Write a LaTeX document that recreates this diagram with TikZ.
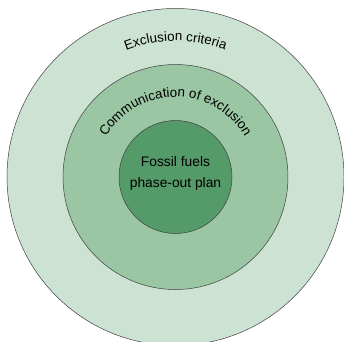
\documentclass[tikz,border=0pt]{standalone}
\usepackage{fontspec}
\setmainfont{Liberation Sans}
\usetikzlibrary{decorations.text}
\definecolor{outergreen}{HTML}{CCE3D4}
\definecolor{midgreen}{HTML}{9AC6A3}
\definecolor{innergreen}{HTML}{559A69}
\tikzset{
  ring/.style={circle, draw=black!75, line width=0.5pt, inner sep=0pt},
  arclabel/.style={decorate, decoration={text along path, text align=center,
      text={|\fontsize{13.4pt}{16pt}\selectfont|#1}}}
}
\begin{document}
\begin{tikzpicture}[x=1pt,y=1pt]
\clip (-175.5,-164) rectangle (168.5,177);
\node[ring, minimum size=337pt, fill=outergreen] (outer) at (0,0) {};
\node[ring, minimum size=225pt, fill=midgreen] (middle) at (0,0) {};
\node[ring, minimum size=113pt, fill=innergreen] (core) at (0,0) {};
\node[align=center, font=\fontsize{13.8pt}{20.6pt}\selectfont] (coretext) at ([yshift=3.5pt]core.center) {Fossil fuels\\phase-out plan};
% curved labels
\path[arclabel={Exclusion criteria}] (outer.center) ++(180:136) arc[start angle=180, end angle=0, radius=136];
\path[arclabel={Communication of exclusion}] (middle.center) ++(180:80) arc[start angle=180, end angle=0, radius=80];
\end{tikzpicture}
\end{document}
